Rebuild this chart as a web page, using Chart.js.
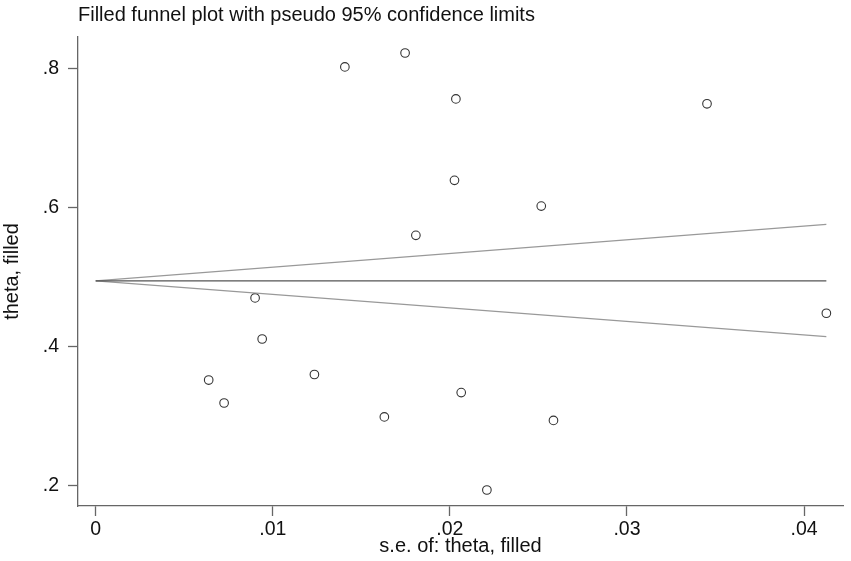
<!DOCTYPE html>
<html>
<head>
<meta charset="utf-8">
<script src="https://cdn.jsdelivr.net/npm/chart.js@4"></script>
<style>
  html, body { margin: 0; padding: 0; background: #fff; }
  #wrap { width: 851px; height: 561px; }
</style>
</head>
<body>
<div id="wrap"><canvas id="c" width="851" height="561"></canvas></div>
<script>
// Study points: standard error (x) and theta (y)
const seValues = [0.01407, 0.01747, 0.01808, 0.02034, 0.03452, 0.02026, 0.02516,
                  0.00900, 0.00940, 0.00638, 0.00725, 0.01235, 0.01630,
                  0.04126, 0.02064, 0.02585, 0.02209];
const thetaValues = [0.802, 0.822, 0.560, 0.756, 0.749, 0.639, 0.602,
                     0.470, 0.411, 0.352, 0.319, 0.360, 0.299,
                     0.448, 0.334, 0.294, 0.194];
// Funnel (pseudo 95% limits) endpoints
const funnelSe = [0, 0.04126];
const funnelCenter = [0.4945, 0.4945];
const funnelUpper = [0.4945, 0.5756];
const funnelLower = [0.4945, 0.4144];
// Tick labels
const xTicks = [0, 0.01, 0.02, 0.03, 0.04];
const yTicks = [0.2, 0.4, 0.6, 0.8];

const fmt = v => (v === 0 ? '0' : String(v).replace(/^0\./, '.'));
const toXY = (xs, ys) => xs.map((x, i) => ({ x: x, y: ys[i] }));
const FONT = "'Liberation Sans', Arial, Helvetica, sans-serif";

new Chart(document.getElementById('c'), {
  type: 'scatter',
  data: {
    datasets: [
      {
        label: 'center', type: 'line', data: toXY(funnelSe, funnelCenter),
        borderColor: '#555', borderWidth: 1.3, pointRadius: 0, fill: false
      },
      {
        label: 'upper', type: 'line', data: toXY(funnelSe, funnelUpper),
        borderColor: '#999', borderWidth: 1.3, pointRadius: 0, fill: false
      },
      {
        label: 'lower', type: 'line', data: toXY(funnelSe, funnelLower),
        borderColor: '#999', borderWidth: 1.3, pointRadius: 0, fill: false
      },
      {
        label: 'theta, filled', data: toXY(seValues, thetaValues),
        pointStyle: 'circle', pointRadius: 4.3, pointBorderWidth: 1.1,
        borderColor: '#333', backgroundColor: 'rgba(255,255,255,0)',
        pointHoverRadius: 4.3
      }
    ]
  },
  options: {
    responsive: false,
    animation: false,
    devicePixelRatio: 1,
    layout: { padding: { left: 0, right: 8, top: 0, bottom: 0 } },
    plugins: {
      legend: { display: false },
      tooltip: { enabled: false },
      title: {
        display: true,
        text: 'Filled funnel plot with pseudo 95% confidence limits',
        align: 'start',
        fullSize: false,
        color: '#111',
        font: { family: FONT, size: 20, weight: 'normal' },
        padding: { top: 3, bottom: 10 }
      }
    },
    scales: {
      x: {
        type: 'linear',
        min: -0.001, max: 0.0422,
        afterFit: s => { s.height = 55; },
        afterBuildTicks: s => { s.ticks = xTicks.map(v => ({ value: v })); },
        grid: { drawOnChartArea: false, drawTicks: true, tickLength: 10, color: '#666', tickWidth: 1.3 },
        border: { display: true, color: '#666', width: 1.3 },
        ticks: {
          color: '#111', padding: 2, maxRotation: 0,
          font: { family: FONT, size: 19.5 },
          callback: v => fmt(v)
        },
        title: {
          display: true, text: 's.e. of: theta, filled', color: '#111',
          font: { family: FONT, size: 20 }, padding: { top: 0, bottom: 3 }
        }
      },
      y: {
        type: 'linear',
        min: 0.171, max: 0.845,
        afterFit: s => { s.width = 78; },
        afterBuildTicks: s => { s.ticks = yTicks.map(v => ({ value: v })); },
        grid: { drawOnChartArea: false, drawTicks: true, tickLength: 10, color: '#666', tickWidth: 1.3 },
        border: { display: true, color: '#666', width: 1.3 },
        ticks: {
          color: '#111', padding: 9,
          font: { family: FONT, size: 19.5 },
          callback: v => fmt(v)
        },
        title: {
          display: true, text: 'theta, filled', color: '#111',
          font: { family: FONT, size: 20 }, padding: { top: 0, bottom: 0 }
        }
      }
    }
  }
});
</script>
</body>
</html>
